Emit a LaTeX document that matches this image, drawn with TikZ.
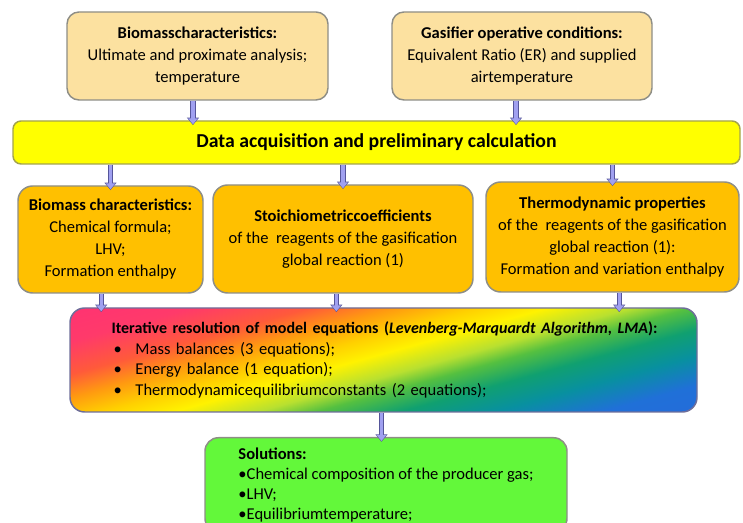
\documentclass[tikz,border=0pt]{standalone}
\usepackage{fontspec}
\setmainfont{Carlito}
\usetikzlibrary{arrows.meta}
\definecolor{tanbox}{HTML}{FCE1A0}
\definecolor{boxline}{HTML}{8E8E86}
\definecolor{barfill}{HTML}{FFFF00}
\definecolor{barline}{HTML}{A3A34C}
\definecolor{orangebox}{HTML}{FFC000}
\definecolor{greenbox}{HTML}{63F83A}
\definecolor{iterline}{HTML}{6E6E9A}
\definecolor{arrowfill}{HTML}{A0A0F0}
\definecolor{arrowline}{HTML}{55559A}
\pgfdeclarehorizontalshading{rainbowfade}{100bp}{
  color(0bp)=(rgb,255:red,255;green,45;blue,120); color(13bp)=(rgb,255:red,255;green,45;blue,120);
  color(26.5bp)=(rgb,255:red,255;green,58;blue,106);
  color(33.8bp)=(rgb,255:red,255;green,90;blue,58); color(39bp)=(rgb,255:red,255;green,154;blue,16);
  color(44.1bp)=(rgb,255:red,255;green,208;blue,0); color(48.5bp)=(rgb,255:red,255;green,242;blue,0);
  color(53.7bp)=(rgb,255:red,184;green,224;blue,48); color(57.3bp)=(rgb,255:red,85;green,192;blue,64);
  color(62.5bp)=(rgb,255:red,16;green,160;blue,112); color(68.4bp)=(rgb,255:red,8;green,144;blue,160);
  color(75bp)=(rgb,255:red,32;green,112;blue,216); color(100bp)=(rgb,255:red,48;green,96;blue,224)}
\begin{document}
\begin{tikzpicture}[x=0.75pt,y=-0.75pt, line join=round, >=stealth]
	\tikzset{box/.style={draw=boxline, line width=1.1pt, rounded corners=9pt, align=center, inner sep=2pt, font=\fontsize{12.4}{16.5}\selectfont},
		flow/.style={draw=arrowfill, line width=2.5pt, line cap=butt, -{Triangle[length=4.5pt,width=7pt]}, shorten >=-3pt,
			preaction={draw=arrowline, line width=3.9pt, line cap=butt, -{Triangle[length=5.6pt,width=8.8pt]}, shorten >=-3.6pt}}}
	\useasboundingbox (0,0) rectangle (743,523);
	\clip (0,0) rectangle (743,523);
	% inputs
	\node[box, fill=tanbox, minimum width=195.75pt, minimum height=66pt] (bioA) at (197.5,56) {\textbf{Biomasscharacteristics:}\\Ultimate and proximate analysis;\\temperature};
	\node[box, fill=tanbox, minimum width=195pt, minimum height=66pt] (gasB) at (522,56) {\textbf{Gasifier operative conditions:}\\Equivalent Ratio (ER) and supplied\\airtemperature};
	\node[box, draw=barline, fill=barfill, rounded corners=6pt, minimum width=545.25pt, minimum height=32.25pt, font=\bfseries\fontsize{14.8}{17}\selectfont] (dataBar) at (376.5,142.5) {Data acquisition and preliminary calculation};
	% preliminary results
	\node[box, fill=orangebox, rounded corners=11pt, minimum width=138.75pt, minimum height=80.25pt] (bioC) at (110.5,239.5) {\textbf{Biomass characteristics:}\\Chemical formula;\\LHV;\\Formation enthalpy};
	\node[box, fill=orangebox, rounded corners=11pt, minimum width=195pt, minimum height=81pt] (stoD) at (343,239) {\textbf{Stoichiometriccoefficients}\\of the\ \ reagents of the gasification\\global reaction (1)};
	\node[box, fill=orangebox, rounded corners=11pt, minimum width=189.75pt, minimum height=82.5pt] (thermE) at (612.5,237) {\textbf{Thermodynamic properties}\\of the\ \ reagents of the gasification\\global reaction (1):\\Formation and variation enthalpy};
	% solver
	\node[box, draw=iterline, shading=rainbowfade, shading angle=-74.5, rounded corners=11pt, minimum width=470.25pt, minimum height=78pt, align=left, text width=408pt, font=\fontsize{12.4}{15.5}\selectfont] (iterF) at (383.5,360)
		{\mbox{\fontsize{12}{15.5}\selectfont\textbf{Iterative resolution of model equations (\textit{Levenberg-Marquardt Algorithm, LMA}):}}\\
		\makebox[18pt][l]{\hspace{1.5pt}\textbullet}Mass balances (3 equations);\\
		\makebox[18pt][l]{\hspace{1.5pt}\textbullet}Energy balance (1 equation);\\
		\makebox[18pt][l]{\hspace{1.5pt}\textbullet}Thermodynamicequilibriumconstants (2 equations);};
	\node[box, fill=greenbox, rounded corners=10pt, anchor=north, minimum width=271.5pt, minimum height=70.5pt, align=left, font=\fontsize{12.4}{15}\selectfont] (solG) at (386,437)
		{\textbf{Solutions:}\\\textbullet Chemical composition of the producer gas;\\\textbullet LHV;\\\textbullet Equilibriumtemperature;};
	% connectors
	\draw[flow] ([xshift=-3.4pt]bioA.south) -- ([xshift=-3.4pt]bioA.south |- dataBar.north);
	\draw[flow] ([xshift=-4.5pt]gasB.south) -- ([xshift=-4.5pt]gasB.south |- dataBar.north);
	\draw[flow] (dataBar.south -| bioC) -- (bioC.north);
	\draw[flow] (dataBar.south -| stoD) -- (stoD.north);
	\draw[flow] (dataBar.south -| thermE) -- (thermE.north);
	\draw[flow] ([xshift=-7pt]bioC.south) -- ([xshift=-7pt]bioC.south |- iterF.north);
	\draw[flow] ([xshift=-5pt]stoD.south) -- ([xshift=-5pt]stoD.south |- iterF.north);
	\draw[flow] ([xshift=5pt]thermE.south) -- ([xshift=5pt]thermE.south |- iterF.north);
	\draw[flow] ([xshift=-1.5pt]iterF.south) -- ([xshift=-1.5pt]iterF.south |- solG.north);
\end{tikzpicture}
\end{document}
